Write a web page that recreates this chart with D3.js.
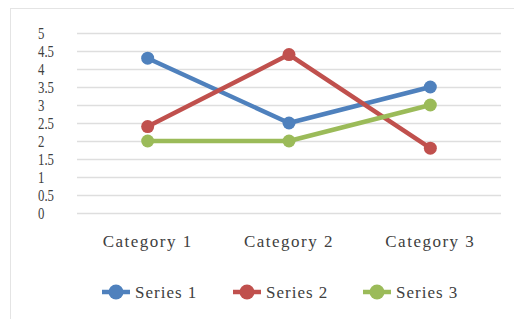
<!DOCTYPE html>
<html>
<head>
<meta charset="utf-8">
<script src="https://cdn.jsdelivr.net/npm/d3@7"></script>
<style>
  body { margin: 0; background: #fff; }
  svg { display: block; font-family: "Liberation Serif", "Times New Roman", serif; }
</style>
</head>
<body>
<div id="chart"></div>
<script>
const categories = ["Category 1", "Category 2", "Category 3"];
const seriesNames = ["Series 1", "Series 2", "Series 3"];
const series1 = [4.3, 2.5, 3.5];
const series2 = [2.4, 4.4, 1.8];
const series3 = [2, 2, 3];
const yTicks = [0, 0.5, 1, 1.5, 2, 2.5, 3, 3.5, 4, 4.5, 5];
const colors = ["#4f81bd", "#c0504d", "#9bbb59"];

const width = 514, height = 319;
const plot = { left: 77, right: 501, top: 33, bottom: 213 };

const svg = d3.select("#chart")
    .append("svg")
    .attr("width", width)
    .attr("height", height);

// chart area border
svg.append("rect")
    .attr("x", 10.5).attr("y", 8.5)
    .attr("width", 540).attr("height", 340)
    .attr("fill", "#fff")
    .attr("stroke", "#e4e4e4");

const x = d3.scaleBand()
    .domain(categories)
    .range([plot.left, plot.right]);

const y = d3.scaleLinear()
    .domain([0, 5])
    .range([plot.bottom, plot.top]);

// gridlines
svg.append("g")
    .selectAll("line")
    .data(yTicks)
    .join("line")
    .attr("x1", plot.left)
    .attr("x2", plot.right)
    .attr("y1", d => Math.round(y(d)) + 0.5)
    .attr("y2", d => Math.round(y(d)) + 0.5)
    .attr("stroke", "#dedede")
    .attr("stroke-width", 1.5);

// y labels, left aligned, tall and narrow like the original
svg.append("g")
    .selectAll("text")
    .data(yTicks)
    .join("text")
    .attr("transform", d => `translate(38,${y(d)}) scale(0.8,1.05)`)
    .attr("dy", "0.35em")
    .attr("font-size", 16)
    .attr("fill", "#404040")
    .text(d => d);

// category labels
svg.append("g")
    .selectAll("text")
    .data(categories)
    .join("text")
    .attr("x", d => x(d) + x.bandwidth() / 2)
    .attr("y", 241)
    .attr("dy", "0.35em")
    .attr("text-anchor", "middle")
    .attr("font-size", 17)
    .attr("letter-spacing", 1.5)
    .attr("fill", "#404040")
    .text(d => d);

const allSeries = [series1, series2, series3];
const line = d3.line()
    .x((d, i) => x(categories[i]) + x.bandwidth() / 2)
    .y(d => y(d));

allSeries.forEach((vals, s) => {
    const g = svg.append("g");
    g.append("path")
        .datum(vals)
        .attr("d", line)
        .attr("fill", "none")
        .attr("stroke", colors[s])
        .attr("stroke-width", 4.5)
        .attr("stroke-linejoin", "round");
    g.selectAll("circle")
        .data(vals)
        .join("circle")
        .attr("cx", (d, i) => x(categories[i]) + x.bandwidth() / 2)
        .attr("cy", d => y(d))
        .attr("r", 6.5)
        .attr("fill", colors[s]);
});

// legend
const legendX = [102, 233, 363];
const legend = svg.append("g")
    .selectAll("g")
    .data(seriesNames)
    .join("g")
    .attr("transform", (d, i) => `translate(${legendX[i]},292)`);

legend.append("line")
    .attr("x1", 0).attr("x2", 28)
    .attr("stroke", (d, i) => colors[i])
    .attr("stroke-width", 4.5);
legend.append("circle")
    .attr("cx", 14).attr("r", 7.5)
    .attr("fill", (d, i) => colors[i]);
legend.append("text")
    .attr("x", 33)
    .attr("dy", "0.35em")
    .attr("font-size", 17)
    .attr("letter-spacing", 1)
    .attr("fill", "#404040")
    .text(d => d);
</script>
</body>
</html>
